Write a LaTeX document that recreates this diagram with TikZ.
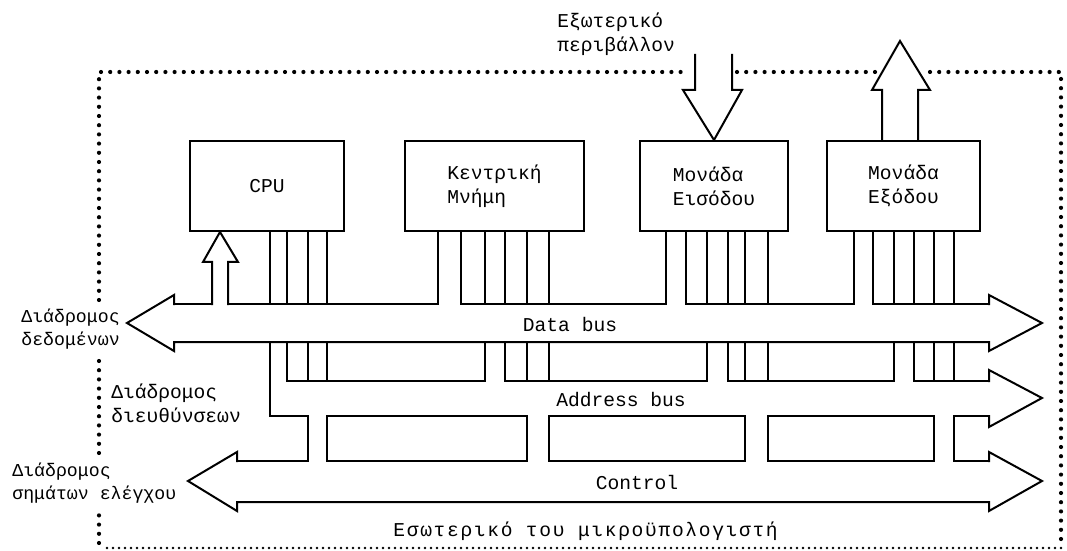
\documentclass[tikz,border=0pt]{standalone}
\usepackage{fontspec}
\setmonofont{Liberation Mono}
\usetikzlibrary{calc}

\begin{document}
\begin{tikzpicture}[
  x=0.5pt, y=-0.5pt,
  font=\ttfamily\fontsize{9.8}{12}\selectfont,
  wire/.style={line width=1pt, line join=miter, line cap=rect},
  unit/.style={draw, line width=1pt, inner sep=0pt, minimum height=45pt, align=left},
  lbl/.style={inner sep=0pt, align=left},
  sidelbl/.style={lbl, font=\ttfamily\fontsize{9.1}{11.5}\selectfont},
  border/.style={line width=2.1pt, dash pattern=on 0pt off 4.6pt, line cap=round},
  borderfine/.style={line width=1.3pt, dash pattern=on 0pt off 3pt, line cap=round},
]
\useasboundingbox (0,0) rectangle (1067,551);

% ===== outer boundary =====
\draw[border] (99,300) -- (99,72) -- (688,72);
\draw[border] (737,72) -- (878,72);
\draw[border] (930,72) -- (1061,72) -- (1061,548);
\draw[borderfine] (1061,548) -- (105,548);
\draw[border] (99,543) -- (99,513);
\draw[border] (99,453) -- (99,357);

% ===== units =====
\node[unit, minimum width=77pt] (cpu) at (267,186) {CPU};
\node[unit, minimum width=89.5pt] (mem) at (494.5,186) {Κεντρική\\Μνήμη};
\node[unit, minimum width=74pt] (inp) at (714,186) {Μονάδα\\Εισόδου};
\node[unit, minimum width=76.5pt] (outp) at (903.5,186) {Μονάδα\\Εξόδου};

% ===== outside world =====
\node[lbl, anchor=west] (env) at (557,34) {Εξωτερικό\\περιβάλλον};
\draw[wire] (695,55) -- (695,90) -- (683,90) -- (inp.north) -- (742,90) -- (732,90) -- (732,55);
\draw[wire] ($(outp.north)+(-21.5,0)$) -- (882,90) -- (872,90) -- (900,41)
  -- (930,90) -- (918,90) -- ($(outp.north)+(14.5,0)$);
\draw[wire] (212,304) -- (212,262) -- (203,262) -- ($(cpu.south)+(-47,0)$)
  -- (238,262) -- (228,262) -- (228,304);

% ===== data bus =====
\draw[wire] (174,304) -- (174,295) -- (127,323) -- (174,351) -- (174,342) -- (989,342)
  -- (989,351) -- (1042,323) -- (989,295) -- (989,304);
\foreach \a/\b in {174/212, 228/438, 461/666, 686/854, 873/989}
  \draw[wire] (\a,304) -- (\b,304);

% ===== address bus =====
\draw[wire] (989,381) -- (989,370) -- (1042,398) -- (989,427) -- (989,416);
\foreach \a/\b in {287/485, 505/707, 728/894, 914/989}
  \draw[wire] (\a,381) -- (\b,381);
\foreach \a/\b in {270/308, 327/527, 549/745, 768/934, 954/989}
  \draw[wire] (\a,416) -- (\b,416);

% ===== control bus =====
\draw[wire] (237,461) -- (237,452) -- (188,481) -- (237,511) -- (237,502) -- (989,502)
  -- (989,511) -- (1042,481) -- (989,452) -- (989,461);
\foreach \a/\b in {237/308, 327/527, 549/745, 768/934, 954/989}
  \draw[wire] (\a,461) -- (\b,461);

% ===== lanes =====
\foreach \x in {270,287,308,327, 438,461,485,505,527,549, 666,686,707,728,745,768,
  854,873,894,914,934,954}
  \draw[wire] (\x,231) -- (\x,304);
\foreach \x in {287,308,327, 485,505,527,549, 707,728,745,768, 894,914,934,954}
  \draw[wire] (\x,342) -- (\x,381);
\draw[wire] (270,342) -- (270,416);
\foreach \x in {308,327, 527,549, 745,768, 934,954}
  \draw[wire] (\x,416) -- (\x,461);

% ===== labels =====
\node[lbl] (databus) at (570,324) {Data bus};
\node[lbl] (addrbus) at (621,400) {Address bus};
\node[lbl] (ctrlbus) at (637,482) {Control};
\node[sidelbl, anchor=west] (datalbl) at (21,329) {Διάδρομος\\δεδομένων};
\node[lbl, anchor=west] (addrlbl) at (111,403) {Διάδρομος\\διευθύνσεων};
\node[sidelbl, anchor=west] (ctrllbl) at (12,483) {Διάδρομος\\σημάτων ελέγχου};
\node[lbl, anchor=west] (inside) at (393,531)
  {\addfontfeature{LetterSpace=8.5}Εσωτερικό του μικροϋπολογιστή};

\end{tikzpicture}
\end{document}
